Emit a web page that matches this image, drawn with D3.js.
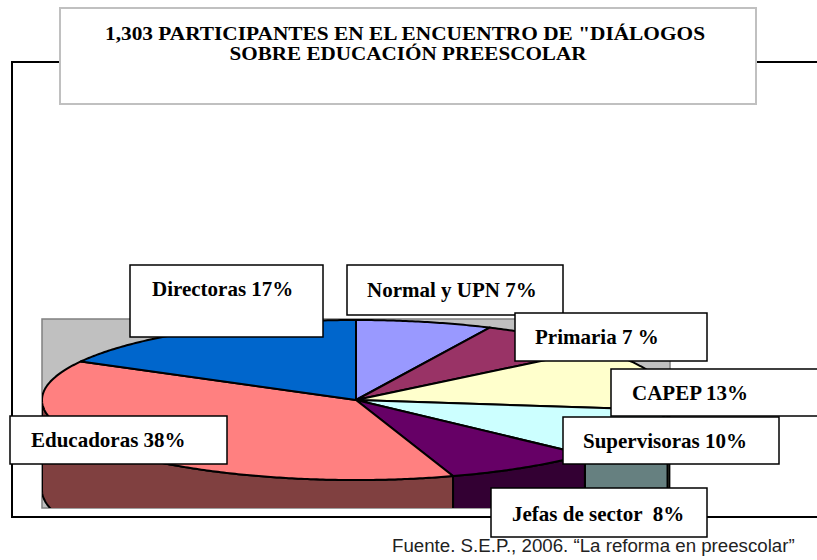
<!DOCTYPE html>
<html>
<meta charset="utf-8">
<style>
    body { margin: 0; background: #fff; }
    svg text { font-family: "Liberation Serif", "Times New Roman", serif; font-weight: bold; fill: #000; white-space: pre; }
    .fuente { font-family: "Liberation Sans", Arial, sans-serif; font-weight: normal; fill: #222; }
</style>
<body>
<script src="https://cdn.jsdelivr.net/npm/d3@7"></script>
<div id="chart"></div>
<script>
// Data, going clockwise from 12 o'clock.
var categorias = ["Normal y UPN", "Primaria", "CAPEP", "Supervisoras", "Jefas de sector", "Educadoras", "Directoras"];
var porcentajes = [7, 7, 13, 10, 8, 38, 17];
var etiquetas = ["Normal y UPN 7%", "Primaria 7 %", "CAPEP 13%", "Supervisoras 10%", "Jefas de sector  8%", "Educadoras 38%", "Directoras 17%"];
var colores = ["#9999ff", "#993366", "#ffffcc", "#ccffff", "#660066", "#ff8080", "#0066cc"];
var titulo = ["1,303 PARTICIPANTES EN EL ENCUENTRO DE \"DIÁLOGOS", "SOBRE EDUCACIÓN PREESCOLAR"];
var fuente = "Fuente. S.E.P., 2006. \u201cLa reforma en preescolar\u201d";

// Where each label box sits (layout only).
var cajas = [
    {x: 347, y: 265, w: 216, h: 50, tx: 367, ty: 297},
    {x: 515, y: 313, w: 192, h: 48, tx: 535, ty: 344},
    {x: 611, y: 369, w: 220, h: 47, tx: 632, ty: 400},
    {x: 563, y: 417, w: 216, h: 47, tx: 583, ty: 448},
    {x: 491, y: 488, w: 216, h: 49, tx: 512, ty: 521},
    {x: 10, y: 416, w: 217, h: 48, tx: 31, ty: 447},
    {x: 130, y: 265, w: 193, h: 72, tx: 152, ty: 296}
];

var width = 817, height = 560;
var svg = d3.select("#chart").append("svg").attr("width", width).attr("height", height);

// Outer frame (runs off the right edge).
svg.append("rect").attr("x", 12).attr("y", 62).attr("width", 830).attr("height", 455)
    .attr("fill", "none").attr("stroke", "#000").attr("stroke-width", 2);

// Title box
svg.append("rect").attr("x", 60).attr("y", 8).attr("width", 696).attr("height", 96)
    .attr("fill", "#fff").attr("stroke", "#c0c0c0").attr("stroke-width", 2);
svg.append("text").attr("x", 405).attr("y", 40).attr("text-anchor", "middle")
    .style("font-size", "18.5px").attr("textLength", 600).attr("lengthAdjust", "spacingAndGlyphs").text(titulo[0]);
svg.append("text").attr("x", 408).attr("y", 59.5).attr("text-anchor", "middle")
    .style("font-size", "18.5px").attr("textLength", 357).attr("lengthAdjust", "spacingAndGlyphs").text(titulo[1]);

// Plot area: grey rectangle, pie clipped to it.
var area = {x: 42, y: 319, w: 628, h: 189};
svg.append("clipPath").attr("id", "recorte").append("rect")
    .attr("x", area.x).attr("y", area.y).attr("width", area.w).attr("height", area.h);
svg.append("rect").attr("x", area.x).attr("y", area.y).attr("width", area.w).attr("height", area.h)
    .attr("fill", "#c0c0c0").attr("stroke", "#808080").attr("stroke-width", 1.5);

var cx = 356, cy = 400, rx = 314, ry = 80, prof = 90;
var xS = d3.scaleLinear().domain([-1, 1]).range([cx - rx, cx + rx]);
var yS = d3.scaleLinear().domain([-1, 1]).range([cy - ry, cy + ry]);

var pie = d3.pie().sort(null).value(function(d) { return d; });
var arcos = pie(porcentajes);

// points along the rim of the ellipse between two angles, shifted down by dy
function borde(a0, a1, dy) {
    var pts = [], n = Math.max(2, Math.ceil((a1 - a0) / 0.01));
    for (var i = 0; i <= n; i++) {
        var a = a0 + (a1 - a0) * i / n;
        pts.push([xS(Math.sin(a)), yS(-Math.cos(a)) + dy]);
    }
    return pts;
}

var g = svg.append("g").attr("clip-path", "url(#recorte)");

// Front side walls (half-brightness shade of each slice).
arcos.forEach(function(d, i) {
    var a0 = Math.max(d.startAngle, Math.PI / 2), a1 = Math.min(d.endAngle, 3 * Math.PI / 2);
    if (a1 <= a0) return;
    var arriba = borde(a0, a1, 0);
    var abajo = borde(a0, a1, prof).reverse();
    var c = d3.color(colores[i]);
    g.append("path")
        .attr("d", d3.line()(arriba.concat(abajo)) + "Z")
        .attr("fill", d3.rgb(c.r / 2, c.g / 2, c.b / 2))
        .attr("stroke", "#000").attr("stroke-width", 2).attr("stroke-linejoin", "round");
});

// Top faces
arcos.forEach(function(d, i) {
    var pts = [[cx, cy]].concat(borde(d.startAngle, d.endAngle, 0));
    g.append("path")
        .attr("d", d3.line()(pts) + "Z")
        .attr("fill", colores[i])
        .attr("stroke", "#000").attr("stroke-width", 2).attr("stroke-linejoin", "round");
});

// Label boxes
cajas.forEach(function(c, i) {
    svg.append("rect").attr("x", c.x).attr("y", c.y).attr("width", c.w).attr("height", c.h)
        .attr("fill", "#fff").attr("stroke", "#000").attr("stroke-width", 1.5);
    svg.append("text").attr("x", c.tx).attr("y", c.ty).style("font-size", "21px").text(etiquetas[i]);
});

// Source line
svg.append("text").attr("class", "fuente").attr("x", 392).attr("y", 552)
    .style("font-size", "18.7px").text(fuente);
</script>
</body>
</html>
